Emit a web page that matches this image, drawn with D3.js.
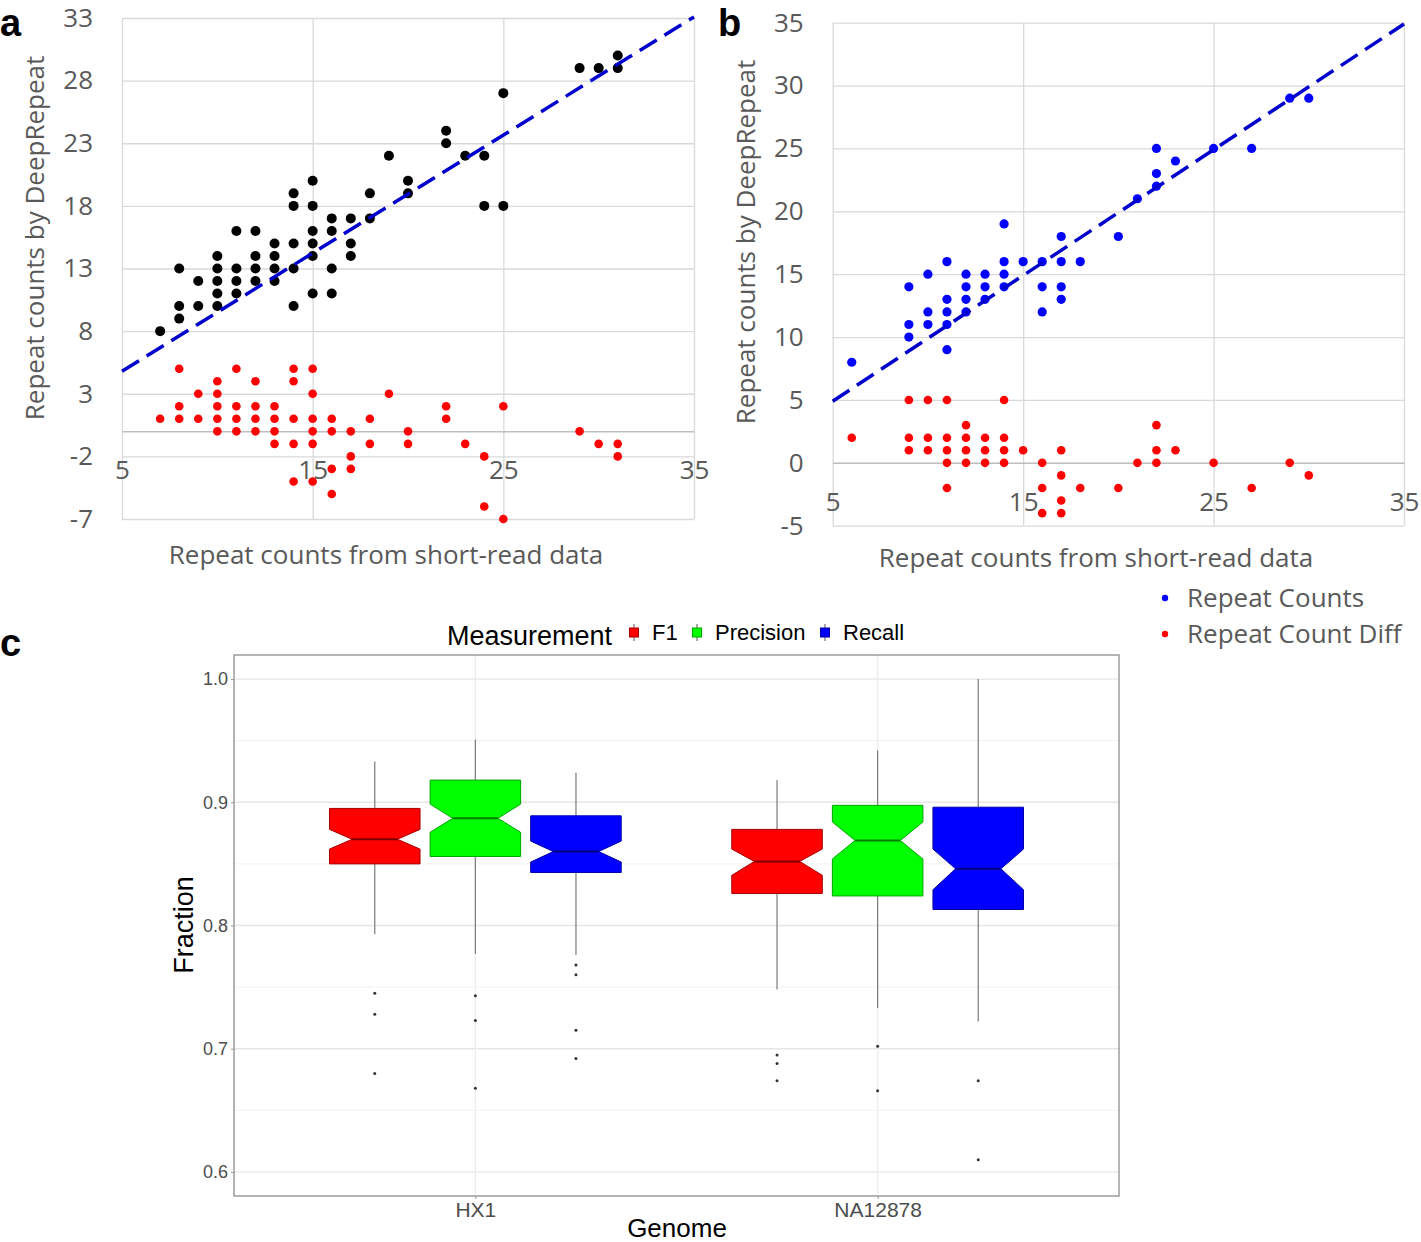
<!DOCTYPE html>
<html>
<head>
<meta charset="utf-8">
<script src="https://cdn.jsdelivr.net/npm/d3@7"></script>
<style>
  body { margin: 0; background: #fff; }
</style>
</head>
<body>
<script>
// ---- data ----
// panel a: [short-read count, value]
const aCounts = [[7,8],[8,9],[8,10],[8,13],[9,10],[9,12],[10,10],[10,11],[10,12],[10,13],[10,14],
  [11,11],[11,12],[11,13],[11,16],[12,12],[12,13],[12,14],[12,16],[13,12],[13,13],[13,14],[13,15],
  [14,10],[14,13],[14,15],[14,18],[14,19],[15,11],[15,14],[15,15],[15,16],[15,18],[15,20],
  [16,11],[16,13],[16,16],[16,17],[17,14],[17,15],[17,17],[18,17],[18,19],[19,22],[20,19],[20,20],
  [22,23],[22,24],[23,22],[24,22],[24,18],[25,18],[25,27],[29,29],[30,29],[31,29],[31,30]];
const aDiff = [[7,1],[8,1],[8,2],[8,5],[9,1],[9,3],[10,0],[10,1],[10,2],[10,3],[10,4],[11,0],[11,1],
  [11,2],[11,5],[12,0],[12,1],[12,2],[12,4],[13,-1],[13,0],[13,1],[13,2],[14,-4],[14,-1],[14,1],
  [14,4],[14,5],[15,-4],[15,-1],[15,0],[15,1],[15,3],[15,5],[16,-5],[16,-3],[16,0],[16,1],[17,-3],
  [17,-2],[17,0],[18,-1],[18,1],[19,3],[20,-1],[20,0],[22,1],[22,2],[23,-1],[24,-6],[24,-2],[25,-7],
  [25,2],[29,0],[30,-1],[31,-1],[31,-2]];
const aTrend = [0.943, 0.08]; // slope, intercept
const aYTicks = [33, 28, 23, 18, 13, 8, 3, -2, -7];

// panel b
const bCounts = [[6,8],[9,10],[9,11],[9,14],[10,11],[10,12],[10,15],[11,9],[11,11],[11,12],[11,13],
  [11,16],[12,12],[12,13],[12,14],[12,15],[13,13],[13,14],[13,15],[14,14],[14,15],[14,16],[14,19],
  [15,16],[16,12],[16,14],[16,16],[17,13],[17,14],[17,16],[17,18],[18,16],[20,18],[21,21],[22,22],
  [22,23],[22,25],[23,24],[25,25],[27,25],[29,29],[30,29]];
const bDiff = [[6,2],[9,1],[9,2],[9,5],[10,1],[10,2],[10,5],[11,-2],[11,0],[11,1],[11,2],[11,5],
  [12,0],[12,1],[12,2],[12,3],[13,0],[13,1],[13,2],[14,0],[14,1],[14,2],[14,5],[15,1],[16,-4],
  [16,-2],[16,0],[17,-4],[17,-3],[17,-1],[17,1],[18,-2],[20,-2],[21,0],[22,0],[22,1],[22,3],[23,1],
  [25,0],[27,-2],[29,0],[30,-1]];
const bTrend = [1.0, -0.1];
const bYTicks = [35, 30, 25, 20, 15, 10, 5, 0, -5];
const xTicks = [5, 15, 25, 35];
const legendLabels = ["Repeat Counts", "Repeat Count Diff"];

// panel c (order: HX1 F1/Precision/Recall, NA12878 F1/Precision/Recall)
const genomes = ["HX1", "NA12878"];
const measures = ["F1", "Precision", "Recall"];
const q3 = [0.895, 0.918, 0.889, 0.878, 0.8975, 0.896];
const median = [0.870, 0.887, 0.860, 0.852, 0.869, 0.846];
const q1 = [0.850, 0.856, 0.843, 0.826, 0.824, 0.813];
const notchHi = [0.878, 0.8985, 0.8685, 0.862, 0.884, 0.862];
const notchLo = [0.862, 0.8756, 0.8515, 0.8407, 0.854, 0.829];
const whiskHi = [0.933, 0.951, 0.924, 0.918, 0.942, 1.0];
const whiskLo = [0.793, 0.777, 0.776, 0.748, 0.733, 0.722];
const outliers = [[0.745, 0.728, 0.680], [0.743, 0.723, 0.668], [0.768, 0.760, 0.715, 0.692],
  [0.695, 0.688, 0.674], [0.702, 0.666], [0.674, 0.610]];
const cYTicks = [0.6, 0.7, 0.8, 0.9, 1.0];
const cYMinor = [0.65, 0.75, 0.85, 0.95];

const W = 1421, H = 1242;
const svg = d3.select("body").append("svg").attr("width", W).attr("height", H);
svg.append("rect").attr("width", W).attr("height", H).attr("fill", "#fff");

const excelFont = "'Open Sans', sans-serif";
const txtGrey = "#595959";

function scatter(o) {
  const g = svg.append("g");
  const x = d3.scaleLinear().domain([5, 35]).range(o.xr);
  const y = d3.scaleLinear().domain(o.yd).range(o.yr);

  // gridlines
  g.append("g").attr("transform", `translate(${o.xr[0]},0)`)
    .call(d3.axisLeft(y).tickValues(o.yTicks).tickSize(-(o.xr[1] - o.xr[0])).tickFormat(""))
    .call(s => s.select(".domain").remove())
    .call(s => s.selectAll("line").attr("stroke", "#d9d9d9").attr("stroke-width", 1.3));
  g.append("g").attr("transform", `translate(0,${o.yr[0]})`)
    .call(d3.axisBottom(x).tickValues(xTicks).tickSize(-(o.yr[0] - o.yr[1])).tickFormat(""))
    .call(s => s.select(".domain").remove())
    .call(s => s.selectAll("line").attr("stroke", "#d9d9d9").attr("stroke-width", 1.3));

  // horizontal axis at zero
  const xa = g.append("g").attr("transform", `translate(0,${y(0)})`)
    .call(d3.axisBottom(x).tickValues(xTicks).tickSize(0).tickFormat(d => String(d)));
  xa.select(".domain").attr("stroke", "#bfbfbf").attr("stroke-width", 1.5);
  xa.selectAll("text").attr("dy", null).attr("y", 48)
    .attr("font-family", excelFont).attr("font-size", 26).attr("fill", txtGrey);

  // y tick labels
  const ya = g.append("g").attr("transform", `translate(${o.xr[0]},0)`)
    .call(d3.axisLeft(y).tickValues(o.yTicks).tickSize(0).tickPadding(29).tickFormat(d => String(d)));
  ya.select(".domain").remove();
  ya.selectAll("text").attr("font-family", excelFont).attr("font-size", 26).attr("fill", txtGrey);

  // points
  g.append("g").selectAll("circle").data(o.diff).join("circle")
    .attr("cx", d => x(d[0])).attr("cy", d => y(d[1])).attr("r", 4.3).attr("fill", "#ff0000");
  g.append("g").selectAll("circle").data(o.counts).join("circle")
    .attr("cx", d => x(d[0])).attr("cy", d => y(d[1])).attr("r", o.r).attr("fill", o.color);

  // trend line
  g.append("line")
    .attr("x1", x(5)).attr("y1", y(o.trend[0] * 5 + o.trend[1]))
    .attr("x2", x(35)).attr("y2", y(o.trend[0] * 35 + o.trend[1]))
    .attr("stroke", "#0000cc").attr("stroke-width", 3.5).attr("stroke-dasharray", "20,9");

  // titles
  g.append("text").attr("transform", `translate(${o.yt[0]},${o.yt[1]}) rotate(-90)`)
    .attr("text-anchor", "middle").attr("dy", "0.35em")
    .attr("font-family", excelFont).attr("font-size", 26).attr("fill", txtGrey)
    .text("Repeat counts by DeepRepeat");
  g.append("text").attr("x", o.xt[0]).attr("y", o.xt[1])
    .attr("text-anchor", "middle").attr("dy", "0.35em")
    .attr("font-family", excelFont).attr("font-size", 26).attr("fill", txtGrey)
    .text("Repeat counts from short-read data");
  svg.append("text").attr("x", o.lab[0]).attr("y", o.lab[1])
    .attr("font-family", "'Liberation Sans', Arial, sans-serif").attr("font-weight", "bold")
    .attr("font-size", 38).attr("fill", "#000").text(o.label);
}

scatter({ xr: [122, 694], yd: [-7, 33], yr: [519, 18], yTicks: aYTicks, counts: aCounts, diff: aDiff,
  color: "#000", r: 5, trend: aTrend, yt: [35, 238], xt: [386, 555], lab: [0, 36], label: "a" });
scatter({ xr: [832.7, 1404], yd: [-5, 35], yr: [525.7, 22.7], yTicks: bYTicks, counts: bCounts, diff: bDiff,
  color: "#0000ff", r: 4.6, trend: bTrend, yt: [746, 242], xt: [1096, 558], lab: [718, 36], label: "b" });

// panel b legend
const leg = svg.append("g");
leg.selectAll("circle").data(legendLabels).join("circle")
  .attr("cx", 1165).attr("cy", (d, i) => 598 + i * 36).attr("r", 3.2)
  .attr("fill", (d, i) => i ? "#ff0000" : "#0000ff");
leg.selectAll("text").data(legendLabels).join("text")
  .attr("x", 1187).attr("y", (d, i) => 598 + i * 36).attr("dy", "0.35em")
  .attr("font-family", excelFont).attr("font-size", 26).attr("fill", txtGrey).text(d => d);

// ---- panel c ----
const gg = "'Liberation Sans', Arial, sans-serif";
const cL = 234, cR = 1119, cT = 655, cB = 1196;
const xc = d3.scalePoint().domain(genomes).range([cL, cR]).padding(0.6);
const xInner = d3.scaleBand().domain(measures).range([-150.9, 150.9]).paddingInner(0.1).paddingOuter(0.05);
const yc = d3.scaleLinear().domain([0.5805, 1.0195]).range([cB, cT]);
const fills = d3.scaleOrdinal().domain(measures).range(["#ff0000", "#00ff00", "#0000ff"]);

const c = svg.append("g");
c.append("g").selectAll("line").data(cYMinor).join("line")
  .attr("x1", cL).attr("x2", cR).attr("y1", d => yc(d)).attr("y2", d => yc(d))
  .attr("stroke", "#f2f2f2").attr("stroke-width", 1);
c.append("g").selectAll("line").data(cYTicks).join("line")
  .attr("x1", cL).attr("x2", cR).attr("y1", d => yc(d)).attr("y2", d => yc(d))
  .attr("stroke", "#e6e6e6").attr("stroke-width", 1.3);
c.append("g").selectAll("line").data(genomes).join("line")
  .attr("x1", d => xc(d)).attr("x2", d => xc(d)).attr("y1", cT).attr("y2", cB)
  .attr("stroke", "#ededed").attr("stroke-width", 1.3);

const boxes = [];
genomes.forEach((gn, gi) => measures.forEach((m, mi) => {
  const k = gi * 3 + mi;
  boxes.push({ gn, m, q1: q1[k], q3: q3[k], med: median[k], nlo: notchLo[k], nhi: notchHi[k],
    wlo: whiskLo[k], whi: whiskHi[k], out: outliers[k] });
}));
const bw = xInner.bandwidth();
const bg = c.append("g").selectAll("g").data(boxes).join("g")
  .attr("transform", d => `translate(${xc(d.gn) + xInner(d.m)},0)`);
bg.append("line").attr("x1", bw / 2).attr("x2", bw / 2)
  .attr("y1", d => yc(d.whi)).attr("y2", d => yc(d.q3)).attr("stroke", "#7a7a7a").attr("stroke-width", 1.2);
bg.append("line").attr("x1", bw / 2).attr("x2", bw / 2)
  .attr("y1", d => yc(d.q1)).attr("y2", d => yc(d.wlo)).attr("stroke", "#7a7a7a").attr("stroke-width", 1.2);
const ins = bw * 0.25;
bg.append("path")
  .attr("d", d => {
    const p = d3.path();
    p.moveTo(0, yc(d.q3)); p.lineTo(bw, yc(d.q3)); p.lineTo(bw, yc(d.nhi));
    p.lineTo(bw - ins, yc(d.med)); p.lineTo(bw, yc(d.nlo)); p.lineTo(bw, yc(d.q1));
    p.lineTo(0, yc(d.q1)); p.lineTo(0, yc(d.nlo)); p.lineTo(ins, yc(d.med));
    p.lineTo(0, yc(d.nhi)); p.closePath();
    return p.toString();
  })
  .attr("fill", d => fills(d.m))
  .attr("stroke", d => d3.color(fills(d.m)).darker(1.2)).attr("stroke-width", 1);
bg.append("line").attr("x1", ins).attr("x2", bw - ins)
  .attr("y1", d => yc(d.med)).attr("y2", d => yc(d.med))
  .attr("stroke", d => d3.color(fills(d.m)).darker(2)).attr("stroke-width", 2);
bg.append("g").selectAll("circle").data(d => d.out).join("circle")
  .attr("cx", bw / 2).attr("cy", v => yc(v)).attr("r", 1.5).attr("fill", "#333");

c.append("rect").attr("x", cL).attr("y", cT).attr("width", cR - cL).attr("height", cB - cT)
  .attr("fill", "none").attr("stroke", "#8c8c8c").attr("stroke-width", 1.3);

const yAx = c.append("g").attr("transform", `translate(${cL},0)`)
  .call(d3.axisLeft(yc).tickValues(cYTicks).tickFormat(d3.format(".1f")).tickSize(3).tickPadding(3));
yAx.select(".domain").remove();
yAx.selectAll("line").attr("stroke", "#999");
yAx.selectAll("text").attr("font-family", gg).attr("font-size", 18).attr("fill", "#4d4d4d");
const xAx = c.append("g").attr("transform", `translate(0,${cB})`)
  .call(d3.axisBottom(xc).tickSize(3).tickPadding(3));
xAx.select(".domain").remove();
xAx.selectAll("line").attr("stroke", "#999");
xAx.selectAll("text").attr("font-family", gg).attr("font-size", 21).attr("fill", "#4d4d4d");

c.append("text").attr("x", 677).attr("y", 1237).attr("text-anchor", "middle")
  .attr("font-family", gg).attr("font-size", 26).attr("fill", "#000").text("Genome");
c.append("text").attr("transform", "translate(184,925) rotate(-90)").attr("dy", "0.35em")
  .attr("text-anchor", "middle").attr("font-family", gg).attr("font-size", 27).attr("fill", "#000")
  .text("Fraction");

// legend
c.append("text").attr("x", 447).attr("y", 636).attr("dy", "0.35em")
  .attr("font-family", gg).attr("font-size", 27).attr("fill", "#000").text("Measurement");
const keyX = [634, 697, 825];
const lg = c.append("g").selectAll("g").data(measures).join("g")
  .attr("transform", (d, i) => `translate(${keyX[i]},632)`);
lg.append("line").attr("y1", -8).attr("y2", 9).attr("stroke", "#555").attr("stroke-width", 1);
lg.append("rect").attr("x", -4.5).attr("y", -4).attr("width", 9).attr("height", 9)
  .attr("fill", d => fills(d)).attr("stroke", d => d3.color(fills(d)).darker(1.2));
lg.append("text").attr("x", 18).attr("y", 0).attr("dy", "0.35em")
  .attr("font-family", gg).attr("font-size", 22).attr("fill", "#000").text(d => d);

svg.append("text").attr("x", 0).attr("y", 656)
  .attr("font-family", gg).attr("font-weight", "bold").attr("font-size", 38).attr("fill", "#000").text("c");
</script>
</body>
</html>
